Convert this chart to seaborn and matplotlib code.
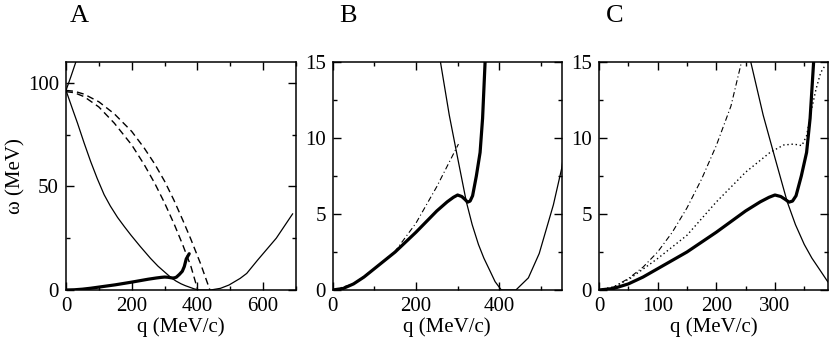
import numpy as np
import pandas as pd
import matplotlib
matplotlib.use("Agg")
import matplotlib.pyplot as plt
from matplotlib.ticker import MultipleLocator
import seaborn as sns

# --- data (q in MeV/c, omega in MeV) ---
# thin solid boundary (descends, zero region, rises again)
thin_q = [0, 20, 35, 55, 75, 95, 116, 135, 157, 178, 198, 226, 257, 280, 300,
          321, 335, 350, 363, 377, 390, 405, 440, 470, 496, 530, 550, 583, 640, 690]
thin_w = [96.3, 87.2, 80.5, 71, 62, 53.8, 46, 40.5, 35, 30.5, 26.4, 21, 15.3, 11.5, 8.7,
          5.8, 4.3, 3.0, 2.1, 1.3, 0.55, 0, 0, 0.8, 2.4, 5.6, 8.0, 14.4, 25, 36.8]
# thin solid rising branch (panel A only)
up_q = [0, 15, 31]
up_w = [96.3, 103, 110.5]
# dashed curves (panel A)
dash1_q = [0, 25, 55, 100, 147, 200, 238, 270, 300, 328, 356, 380, 410, 438]
dash1_w = [96.3, 95.9, 94.5, 90.8, 85, 76.5, 68.5, 60.8, 52.5, 43.5, 33.5, 24.5, 12.5, 0]
dash2_q = [0, 25, 55, 100, 147, 200, 238, 270, 300, 330, 356, 380, 401]
dash2_w = [95.7, 95.2, 93.3, 88.3, 80.5, 70, 60.5, 51.5, 42, 31.5, 21.5, 11.5, 0]
# thick solid dispersion
thick_q = [0, 25, 50, 75, 100, 125, 150, 175, 200, 225, 250, 275, 290, 300, 310,
           318, 324, 330, 336, 345, 354, 360, 366, 375]
thick_w = [0, 0.1, 0.4, 0.85, 1.4, 1.95, 2.5, 3.15, 3.8, 4.5, 5.2, 5.8, 6.1, 6.25, 6.15,
           5.95, 5.78, 5.85, 6.2, 7.5, 9.05, 11.3, 15, 17.5]
# dash-dot, panel B
ddb_q = [0, 50, 100, 150, 200, 250, 302]
ddb_w = [0, 0.4, 1.4, 2.55, 4.4, 6.8, 9.6]
# dash-dot, panel C
ddc_q = [0, 25, 50, 75, 100, 125, 150, 175, 200, 225, 243]
ddc_w = [0, 0.2, 0.75, 1.5, 2.5, 3.8, 5.4, 7.3, 9.5, 12.1, 15]
# dotted, panel C
dot_q = [0, 25, 53, 100, 150, 200, 250, 292, 315, 332, 346, 354, 362, 370, 378, 386]
dot_w = [0, 0.2, 0.76, 2.07, 3.6, 5.79, 7.75, 9.06, 9.54, 9.6, 9.5, 10.15, 11.8,
         13.2, 14.3, 14.8]

sns.set_theme(style="ticks")
plt.rcParams["font.family"] = ["Liberation Serif", "DejaVu Serif"]
plt.rcParams["axes.linewidth"] = 1.1
plt.rcParams["axes.edgecolor"] = "black"
plt.rcParams["text.color"] = "black"
plt.rcParams["axes.labelcolor"] = "black"
plt.rcParams["xtick.color"] = "black"
plt.rcParams["ytick.color"] = "black"

fig = plt.figure(figsize=(8.3, 3.41), dpi=100)

bottom, height = 51 / 341, 228 / 341
ax_a = fig.add_axes([66 / 830, bottom, 230 / 830, height])
ax_b = fig.add_axes([332.7 / 830, bottom, 229 / 830, height])
ax_c = fig.add_axes([599 / 830, bottom, 228.7 / 830, height])

THIN = 0.9
THICK = 2.3


def line(ax, q, w, **kw):
    df = pd.DataFrame({"q": q, "w": w})
    sns.lineplot(data=df, x="q", y="w", ax=ax, color="black", estimator=None,
                 sort=False, legend=False, **kw)


# panel A
line(ax_a, thin_q, thin_w, lw=THIN)
line(ax_a, up_q, up_w, lw=THIN)
line(ax_a, dash1_q, dash1_w, lw=1.0, linestyle=(0, (5, 3)))
line(ax_a, dash2_q, dash2_w, lw=1.0, linestyle=(0, (5, 3)))
line(ax_a, thick_q, thick_w, lw=THICK)

# panel B
line(ax_b, thin_q, thin_w, lw=THIN)
line(ax_b, ddb_q, ddb_w, lw=0.8, linestyle=(0, (5, 2.5, 1, 2.5)))
line(ax_b, thick_q[:-1], thick_w[:-1], lw=THICK)

# panel C
line(ax_c, thin_q, thin_w, lw=THIN)
line(ax_c, ddc_q, ddc_w, lw=0.8, linestyle=(0, (5, 2.5, 1, 2.5)))
line(ax_c, dot_q, dot_w, lw=1.0, linestyle=(0, (1, 2)))
line(ax_c, thick_q[:-1], thick_w[:-1], lw=THICK)

settings = [
    (ax_a, 700, 110, 200, 100, 50, 25),
    (ax_b, 550, 15, 200, 100, 5, 2.5),
    (ax_c, 390, 15, 100, 50, 5, 2.5),
]
for ax, xmax, ymax, xmaj, xmin, ymaj, ymin in settings:
    ax.set_xlim(0, xmax)
    ax.set_ylim(0, ymax)
    ax.xaxis.set_major_locator(MultipleLocator(xmaj))
    ax.xaxis.set_minor_locator(MultipleLocator(xmin))
    ax.yaxis.set_major_locator(MultipleLocator(ymaj))
    ax.yaxis.set_minor_locator(MultipleLocator(ymin))
    ax.tick_params(which="both", direction="in", top=True, right=True,
                   width=1.0, labelsize=15, pad=5, colors="black")
    ax.tick_params(which="major", length=6)
    ax.tick_params(which="minor", length=3.2)
    for s in ax.spines.values():
        s.set_visible(True)
        s.set_color("black")
    ax.set_xlabel("q (MeV/c)", fontsize=15, labelpad=1)
    ax.set_ylabel("")

ax_a.set_ylabel("ω (MeV)", fontsize=15, labelpad=2)

for x, lab in [(79.5, "A"), (347.5, "B"), (615, "C")]:
    fig.text(x / 830, 1 - 15.5 / 341, lab, fontsize=19, ha="center", va="center")

fig.savefig("out.png", dpi=100)
